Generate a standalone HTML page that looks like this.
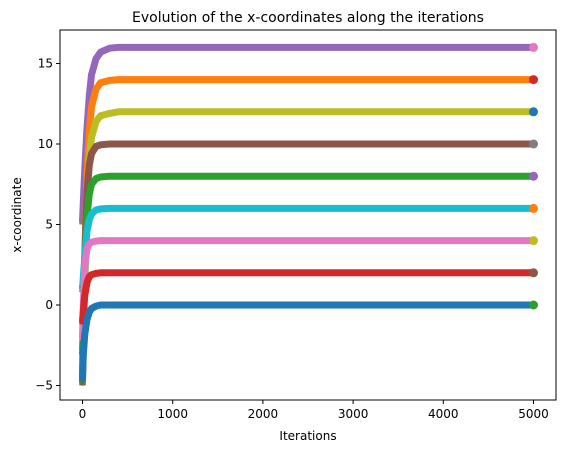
<!DOCTYPE html>
<html><head><meta charset="utf-8"><style>
body{margin:0;background:#fff}
text{font-family:"DejaVu Sans","Liberation Sans",sans-serif}
</style></head><body>
<svg id="chart" width="565" height="453" xmlns="http://www.w3.org/2000/svg">
<rect width="565" height="453" fill="#fff"/>
<g id="plot"></g>
<rect x="60" y="30" width="496" height="370" fill="none" stroke="#000" stroke-width="1"/>
<g id="axes"></g>
<text x="308" y="22" text-anchor="middle" font-size="14">Evolution of the x-coordinates along the iterations</text>
<text x="308" y="440" text-anchor="middle" font-size="12">Iterations</text>
<text transform="translate(21,215) rotate(-90)" text-anchor="middle" font-size="12">x-coordinate</text>
</svg>
<script>
const iterations=[0,10,25,50,75,100,150,200,300,400,5000];
const s16=[5.2,6.5,8.5,11,13,14.3,15.3,15.7,15.95,16,16];
const s14=[-4.6,-1,3,8,10.8,12.3,13.4,13.8,13.95,14,14];
const s12=[-4,-2,1.5,6.5,9,10.4,11.4,11.75,11.9,12,12];
const s10=[-3,-1,3,7,8.7,9.4,9.85,9.95,10,10,10];
const s8=[-4.8,-2,2,5.5,6.9,7.5,7.85,7.95,8,8,8];
const s6=[1,1.8,3,4.6,5.3,5.65,5.9,5.97,6,6,6];
const s4=[-2,0,2.5,3.5,3.8,3.9,3.96,4,4,4,4];
const s2=[-1,-0.3,0.6,1.4,1.75,1.88,1.96,2,2,2,2];
const s0=[-4.5,-3,-1.8,-0.9,-0.45,-0.22,-0.07,0,0,0,0];
const seriesColors=['#9467bd','#ff7f0e','#bcbd22','#8c564b','#2ca02c','#17becf','#e377c2','#d62728','#1f77b4'];
const endColors=['#e377c2','#d62728','#1f77b4','#7f7f7f','#9467bd','#ff7f0e','#bcbd22','#8c564b','#2ca02c'];
const xTicks=[0,1000,2000,3000,4000,5000];
const yTicks=[-5,0,5,10,15];
const series=[s16,s14,s12,s10,s8,s6,s4,s2,s0];
const X=v=>82.5+v*0.0902;
const Y=v=>305-v*16.1;
const NS='http://www.w3.org/2000/svg';
const plot=document.getElementById('plot'),axes=document.getElementById('axes');
function mk(t,a,p){const e=document.createElementNS(NS,t);for(const k in a)e.setAttribute(k,a[k]);p.appendChild(e);return e;}
series.forEach((s,i)=>{
 const d=s.map((v,j)=>(j?'L':'M')+X(iterations[j]).toFixed(1)+','+Y(v).toFixed(1)).join(' ');
 const p=mk('path',{d:d,fill:'none',stroke:seriesColors[i],'stroke-width':7,'stroke-linecap':'round','stroke-linejoin':'round'},plot);
 
 
 const x0=X(0),y0=Y(s[0]);
 const m=mk('path',{d:`M${x0-3},${y0-3}L${x0+3},${y0+3}M${x0-3},${y0+3}L${x0+3},${y0-3}`,stroke:endColors[(i+3)%9],'stroke-width':1.5,fill:'none'},plot);
 
 
 const c=mk('circle',{cx:X(iterations[iterations.length-1]),cy:Y(s[s.length-1]),r:4.5,fill:endColors[i]},plot);
 
 
});
xTicks.forEach(t=>{
 const l=mk('line',{x1:X(t),x2:X(t),y1:400,y2:404,stroke:'#000'},axes);
 
 
 const tx=mk('text',{x:X(t),y:418,'text-anchor':'middle','font-size':12},axes);
 tx.textContent=t;
 
 
});
yTicks.forEach(t=>{
 const l=mk('line',{x1:56,x2:60,y1:Y(t),y2:Y(t),stroke:'#000'},axes);
 
 
 const tx=mk('text',{x:53,y:Y(t)+4,'text-anchor':'end','font-size':12},axes);
 tx.textContent=t<0?'\u2212'+(-t):t;
 
 
});
</script>
</body></html>
